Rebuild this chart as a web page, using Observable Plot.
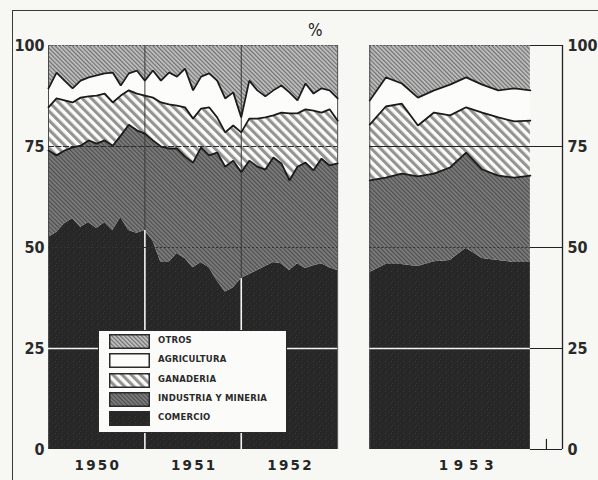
<!DOCTYPE html>
<html><head><meta charset="utf-8">
<script src="https://cdn.jsdelivr.net/npm/d3@7"></script>
<script src="https://cdn.jsdelivr.net/npm/@observablehq/plot@0.6"></script>
<style>
body{margin:0;background:#f7f7f4;}
#wrap{position:relative;width:598px;height:480px;overflow:hidden;background:#f7f7f4;}
#frame{position:absolute;left:12px;top:10px;width:600px;height:490px;border:1.5px solid #3a3a3a;box-sizing:border-box;}
#chart{position:absolute;left:0;top:0;}
#pct{position:absolute;left:308px;top:20px;font:17px 'Liberation Sans Narrow','DejaVu Sans Condensed',sans-serif;color:#222;}
#legend{position:absolute;left:98px;top:330px;width:189px;height:103px;background:#fbfbf9;border:1.5px solid #2a2a2a;box-sizing:border-box;}
.lrow{position:absolute;left:10px;height:15px;}
.lrow svg{position:absolute;left:0;top:0;}
.lrow span{position:absolute;left:49px;top:1px;white-space:nowrap;font:bold 8.5px 'DejaVu Sans',sans-serif;letter-spacing:0.2px;color:#2a2a2a;}
</style></head>
<body>
<svg width="0" height="0" style="position:absolute">
<defs>
<pattern id="p-otros" width="3" height="3" patternUnits="userSpaceOnUse" patternTransform="rotate(-45)">
<rect width="3" height="3" fill="#c2c2c2"/><rect width="1.2" height="3" fill="#6e6e6e"/>
</pattern>
<pattern id="p-agr" width="4" height="4" patternUnits="userSpaceOnUse">
<rect width="4" height="4" fill="#fcfcfa"/>
</pattern>
<pattern id="p-gan" width="6.5" height="6.5" patternUnits="userSpaceOnUse" patternTransform="rotate(-45)">
<rect width="6.5" height="6.5" fill="#fbfbf9"/><rect width="3.1" height="6.5" fill="#939393"/>
</pattern>
<pattern id="p-ind" width="3" height="3" patternUnits="userSpaceOnUse" patternTransform="rotate(-45)">
<rect width="3" height="3" fill="#7e7e7e"/><rect width="1.2" height="3" fill="#4c4c4c"/>
</pattern>
<pattern id="p-com" width="6" height="6" patternUnits="userSpaceOnUse">
<rect width="6" height="6" fill="#272727"/><rect x="1" y="1" width="1" height="1" fill="#3b3b3b"/><rect x="4" y="3" width="1" height="1" fill="#343434"/><rect x="2" y="5" width="1" height="1" fill="#383838"/>
</pattern>
</defs>
</svg>
<div id="wrap">
<div id="frame"></div>
<div id="chart"></div>
<div id="pct">%</div>
<div id="legend"></div>
</div>
<script>
// ---- data (percent shares) ----
const seriesNames = ["COMERCIO", "INDUSTRIA Y MINERIA", "GANADERIA", "AGRICULTURA", "OTROS"];
const legendOrder = ["OTROS", "AGRICULTURA", "GANADERIA", "INDUSTRIA Y MINERIA", "COMERCIO"];
const yearLabels = ["1950", "1951", "1952", "1953"];
const yTicks = [0, 25, 50, 75, 100];

// monthly, Jan 1950 .. Jan 1953 (left panel)
const leftComercio = [52.5,53.7,55.9,57.2,55.0,56.2,54.7,56.2,54.2,57.4,54.2,53.5,54.2,51.7,46.3,46.3,48.5,47.3,45.0,46.3,45.0,41.8,39.0,40.0,42.3,43.3,44.3,45.3,46.3,46.0,44.3,46.0,44.8,45.5,46.0,45.0,44.3];
const leftIndustria = [21.5,19.1,18.1,17.6,20.2,20.3,21.0,20.3,21.0,20.3,26.2,25.5,24.0,24.8,28.7,28.2,26.0,25.2,26.0,28.5,27.8,31.7,31.0,31.5,26.3,28.2,25.7,24.0,26.0,24.8,22.3,24.0,26.2,23.6,26.0,25.3,26.5];
const leftGanaderia = [10.7,14.1,12.4,11.1,11.9,10.9,11.9,11.6,10.7,9.9,8.5,9.1,9.4,10.6,10.9,10.9,10.6,12.2,10.9,9.6,11.9,8.7,8.5,8.7,9.9,10.4,11.9,12.9,10.4,12.6,16.6,13.2,13.2,14.8,11.4,13.9,10.6];
const leftAgricultura = [4.7,6.4,4.9,3.5,4.2,4.7,5.0,5.0,7.4,2.5,4.2,5.7,3.7,6.7,5.4,7.9,7.2,9.6,7.0,7.9,8.4,9.1,8.4,8.2,3.7,9.4,7.0,5.2,6.2,6.7,5.2,3.2,6.4,4.2,6.0,4.7,5.5];
const leftOtros = [10.6,6.7,8.7,10.6,8.7,7.9,7.4,6.9,6.7,9.9,6.9,6.2,8.7,6.2,8.7,6.7,7.7,5.7,11.1,7.7,6.9,8.7,13.1,11.6,17.8,8.7,11.1,12.6,11.1,9.9,11.6,13.6,9.4,11.9,10.6,11.1,13.1];

// monthly 1953 (right panel)
const rightComercio = [43.8,45.8,45.8,45.3,46.5,46.8,49.8,47.3,46.8,46.3,46.3];
const rightIndustria = [22.8,21.5,22.5,22.3,21.8,23.0,23.7,22.0,21.0,21.0,21.5];
const rightGanaderia = [13.8,17.6,17.3,12.6,15.1,12.9,11.2,14.1,14.4,13.9,13.6];
const rightAgricultura = [6.0,7.2,5.0,6.9,5.5,7.6,7.4,6.9,6.7,8.2,7.5];
const rightOtros = [13.6,7.9,9.4,12.9,11.1,9.7,7.9,9.7,11.1,10.6,11.1];

// ---- layout of the broken time axis ----
const LEFT_MONTHS = 36, GAP_START = 40, RIGHT_STEP = 2, AXIS_END = 64;
const yearCenters = [6, 18, 30, GAP_START + 12 * RIGHT_STEP / 2];
const fills = {"COMERCIO": "url(#p-com)", "INDUSTRIA Y MINERIA": "url(#p-ind)", "GANADERIA": "url(#p-gan)", "AGRICULTURA": "url(#p-agr)", "OTROS": "url(#p-otros)"};

function buildRows(panel, cols, xOf) {
  const rows = [];
  cols[0].forEach((_, i) => {
    let acc = 0;
    seriesNames.forEach((s, k) => {
      const v = cols[k][i];
      rows.push({panel, i, x: xOf(i), series: s, y1: acc, y2: acc + v});
      acc += v;
    });
  });
  return rows;
}
const rows = [
  ...buildRows("L", [leftComercio, leftIndustria, leftGanaderia, leftAgricultura, leftOtros], i => i),
  ...buildRows("R", [rightComercio, rightIndustria, rightGanaderia, rightAgricultura, rightOtros], i => GAP_START + RIGHT_STEP * i)
];
const rightEnd = GAP_START + RIGHT_STEP * (rightComercio.length - 1);

const marks = [];
for (const p of ["L", "R"]) {
  for (const s of seriesNames) {
    marks.push(Plot.areaY(rows.filter(r => r.panel === p && r.series === s), {x: "x", y1: "y1", y2: "y2", fill: fills[s]}));
  }
}
// panel edges
marks.push(Plot.ruleX([0, LEFT_MONTHS, GAP_START], {y1: 0, y2: 100, stroke: "#4a4a4a", strokeWidth: 1}));
marks.push(Plot.ruleY([100], {x1: 0, x2: LEFT_MONTHS, stroke: "#555", strokeDasharray: "2,1.5"}));
marks.push(Plot.ruleY([100], {x1: GAP_START, x2: rightEnd, stroke: "#555", strokeDasharray: "2,1.5"}));
// year grid lines (dark over light bands, white over comercio)
marks.push(Plot.ruleX([12, 24], {y1: 0, y2: 100, stroke: "#3a3a3a", strokeWidth: 1}));
marks.push(Plot.ruleX(rows.filter(r => r.panel === "L" && r.series === "COMERCIO" && (r.i === 12 || r.i === 24)), {x: "x", y1: 0, y2: "y2", stroke: "#f2f2f0", strokeWidth: 1.6}));
// horizontal grid
marks.push(Plot.ruleY([75], {x1: 0, x2: LEFT_MONTHS, stroke: "#2e2e2e", strokeWidth: 1.2, strokeDasharray: "6,1.5"}));
marks.push(Plot.ruleY([75], {x1: GAP_START, x2: AXIS_END, stroke: "#222", strokeWidth: 1.2}));
marks.push(Plot.ruleY([50], {x1: 0, x2: LEFT_MONTHS, stroke: "#333", strokeWidth: 1.2, strokeDasharray: "2,2"}));
marks.push(Plot.ruleY([50], {x1: GAP_START, x2: rightEnd, stroke: "#333", strokeWidth: 1.2, strokeDasharray: "2,2"}));
marks.push(Plot.ruleY([25], {x1: 0, x2: LEFT_MONTHS, stroke: "#f2f2f0", strokeWidth: 1.6}));
marks.push(Plot.ruleY([25], {x1: GAP_START, x2: rightEnd, stroke: "#f2f2f0", strokeWidth: 1.6}));
marks.push(Plot.ruleY(yTicks, {x1: rightEnd, x2: AXIS_END, stroke: "#222", strokeWidth: 1.2}));
marks.push(Plot.ruleX([AXIS_END], {y1: 0, y2: 100, stroke: "#222", strokeWidth: 1.3}));
marks.push(Plot.ruleX([62], {y1: 0, y2: 2.5, stroke: "#222", strokeWidth: 1.2}));
// boundary outlines
for (const p of ["L", "R"]) {
  for (const s of ["INDUSTRIA Y MINERIA", "GANADERIA", "AGRICULTURA"]) {
    marks.push(Plot.lineY(rows.filter(r => r.panel === p && r.series === s), {x: "x", y: "y2", stroke: "#1b1b1b", strokeWidth: 1.8, strokeLinejoin: "miter"}));
  }
}
// axes
const axisFont = "'Liberation Sans Narrow','DejaVu Sans Condensed',sans-serif";
marks.push(Plot.axisY({anchor: "left", ticks: yTicks, tickSize: 0, tickPadding: 4, fontSize: 16, fontFamily: axisFont, fontWeight: "bold", fill: "#2a2a2a", label: null}));
marks.push(Plot.axisY({anchor: "right", ticks: yTicks, tickSize: 0, tickPadding: 5, fontSize: 16, fontFamily: axisFont, fontWeight: "bold", fill: "#2a2a2a", label: null}));
marks.push(Plot.axisX({ticks: yearCenters, tickSize: 0, tickPadding: 11, tickFormat: (d, i) => yearLabels[i], fontSize: 13.5, fontWeight: "bold", fontFamily: "'DejaVu Sans',sans-serif", fill: "#262626", label: null}));

const chart = Plot.plot({
  width: 598, height: 480,
  marginTop: 45, marginBottom: 31, marginLeft: 48, marginRight: 36,
  x: {domain: [0, AXIS_END], axis: null},
  y: {domain: [0, 100], axis: null},
  style: {background: "transparent", overflow: "visible"},
  marks
});
document.getElementById("chart").appendChild(chart);
// spaced year lettering
const spacing = [2.2, 2.2, 2.2, 5.8];
chart.querySelectorAll('[aria-label="x-axis tick label"] text').forEach((t, i) => {
  t.setAttribute("letter-spacing", spacing[i] + "px");
  t.setAttribute("dx", (spacing[i] / 2) + "px");
});

// legend
const leg = document.getElementById("legend");
legendOrder.forEach((s, k) => {
  const row = document.createElement("div");
  row.className = "lrow";
  row.style.top = (3 + k * 19.3) + "px";
  row.innerHTML = `<svg width="41" height="15"><rect x="0.75" y="0.75" width="39.5" height="13.5" fill="${fills[s]}" stroke="#2a2a2a" stroke-width="1.5"/></svg><span>${s}</span>`;
  leg.appendChild(row);
});
</script>
</body></html>
